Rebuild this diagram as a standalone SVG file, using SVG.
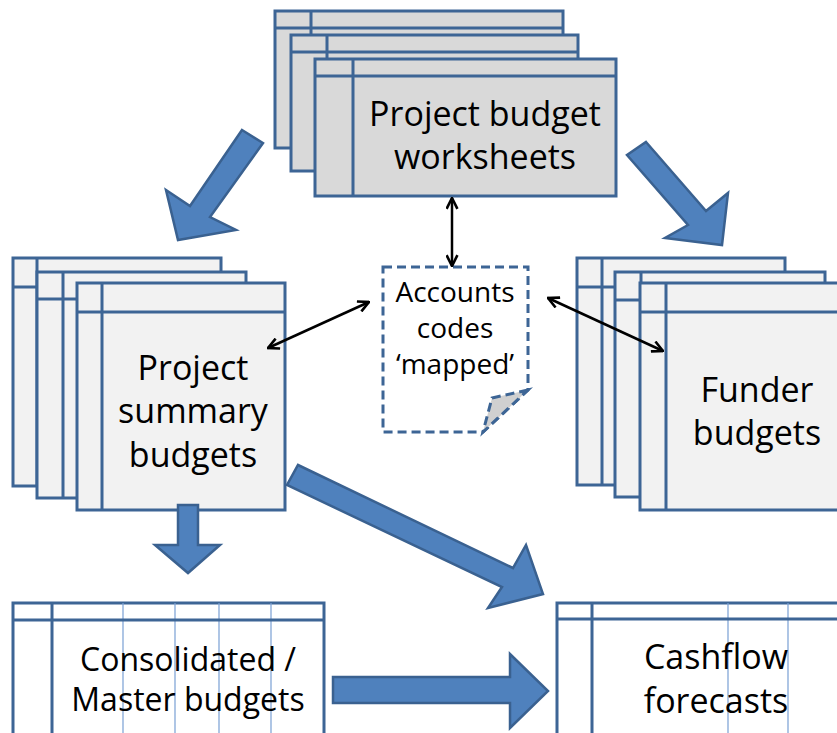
<svg xmlns="http://www.w3.org/2000/svg" width="837" height="733" viewBox="0 0 837 733">
<defs>
<style>
.sheet{stroke:#3d6595;stroke-width:3;}
.gray{fill:#d9d9d9;}
.light{fill:#f2f2f2;}
.white{fill:#ffffff;}
.ln{stroke:#3d6595;stroke-width:3;fill:none;}
.thin{stroke:#7aa0d4;stroke-width:1.2;fill:none;}
.big{fill:#4f81bd;stroke:#3a6190;stroke-width:2.5;stroke-linejoin:miter;}
.dbl{stroke:#000;stroke-width:2.5;fill:none;marker-start:url(#ah);marker-end:url(#ah);}
.lbl{font-family:"Open Sans","Liberation Sans",sans-serif;fill:#000;text-anchor:middle;}
</style>
<marker id="ah" viewBox="0 0 12 12" refX="11" refY="6" markerWidth="13" markerHeight="13" markerUnits="userSpaceOnUse" orient="auto-start-reverse">
<path d="M1,1 L11,6 L1,11" fill="none" stroke="#000" stroke-width="2.4"/>
</marker>
</defs>

<g id="project-budget-worksheets">
<rect class="sheet gray" x="275" y="11" width="288" height="137"/>
<path class="ln" d="M275,28 H563 M311,11 V148"/>
<rect class="sheet gray" x="291" y="35" width="287" height="136"/>
<path class="ln" d="M291,52 H578 M327,35 V171"/>
<rect class="sheet gray" x="315" y="59" width="301" height="137"/>
<path class="ln" d="M315,76 H616 M353,59 V196"/>
<text class="lbl" x="485" y="126" font-size="34">Project budget</text>
<text class="lbl" x="485" y="169" font-size="34">worksheets</text>
</g>

<g id="project-summary-budgets">
<rect class="sheet light" x="13" y="258" width="208" height="228"/>
<path class="ln" d="M13,287 H221 M37,258 V486"/>
<rect class="sheet light" x="37" y="272" width="209" height="226"/>
<path class="ln" d="M37,299 H246 M63,272 V498"/>
<rect class="sheet light" x="77" y="283" width="208" height="227"/>
<path class="ln" d="M77,312 H285 M102,283 V510"/>
<text class="lbl" x="193" y="380" font-size="34">Project</text>
<text class="lbl" x="193" y="423" font-size="34">summary</text>
<text class="lbl" x="193" y="467" font-size="34">budgets</text>
</g>

<g id="funder-budgets">
<rect class="sheet light" x="577" y="258" width="208" height="227"/>
<path class="ln" d="M577,287 H785 M602,258 V485"/>
<rect class="sheet light" x="615" y="272" width="210" height="225"/>
<path class="ln" d="M615,300 H825 M641,272 V497"/>
<rect class="sheet light" x="640" y="283" width="210" height="227"/>
<path class="ln" d="M640,312 H850 M666,283 V510"/>
<text class="lbl" x="757" y="402" font-size="34">Funder</text>
<text class="lbl" x="757" y="445" font-size="34">budgets</text>
</g>

<g id="accounts-codes-mapped">
<path d="M383,267 H528 V390 L483,432 H383 Z" fill="#ffffff" stroke="#3d6595" stroke-width="3" stroke-dasharray="9,5"/>
<path d="M528,390 L492,398 L483,432 Z" fill="#d0d0d0" stroke="#3d6595" stroke-width="3" stroke-dasharray="9,5"/>
<text class="lbl" x="455" y="302" font-size="28">Accounts</text>
<text class="lbl" x="455" y="338" font-size="28">codes</text>
<text class="lbl" x="455" y="374" font-size="28">‘mapped’</text>
</g>

<g id="consolidated-master-budgets">
<rect class="sheet white" x="13" y="603" width="311" height="140"/>
<path class="thin" d="M123,603 V740 M175,603 V740 M219,603 V740 M271,603 V740"/>
<path class="ln" d="M13,620 H324 M52,603 V740"/>
<text class="lbl" x="188" y="671" font-size="32">Consolidated /</text>
<text class="lbl" x="188" y="711" font-size="32">Master budgets</text>
</g>

<g id="cashflow-forecasts">
<rect class="sheet white" x="557" y="603" width="300" height="140"/>
<path class="thin" d="M728,603 V740 M788,603 V740"/>
<path class="ln" d="M557,619 H857 M592,603 V740"/>
<text class="lbl" x="716" y="669" font-size="34">Cashflow</text>
<text class="lbl" x="716" y="713" font-size="34">forecasts</text>
</g>

<g id="connectors">
<polygon class="big" points="242,130 263,143 210,217 236,230 178,240 166,190 190,206"/>
<polygon class="big" points="646,142 706,211 728,193 722,245 665,238 688,225 627,155"/>
<polygon class="big" points="178,505 198,505 198,545 220,545 188,573 155,545 178,545"/>
<polygon class="big" points="298,465 513,568 526,545 543,594 488,608 502,587 287,485"/>
<polygon class="big" points="333,677 510,677 510,654 548,691 510,728 510,703 333,703"/>
<line class="dbl" x1="452" y1="198" x2="452" y2="266"/>
<line class="dbl" x1="369" y1="302" x2="268" y2="348"/>
<line class="dbl" x1="548" y1="298" x2="663" y2="351"/>
</g>
</svg>
